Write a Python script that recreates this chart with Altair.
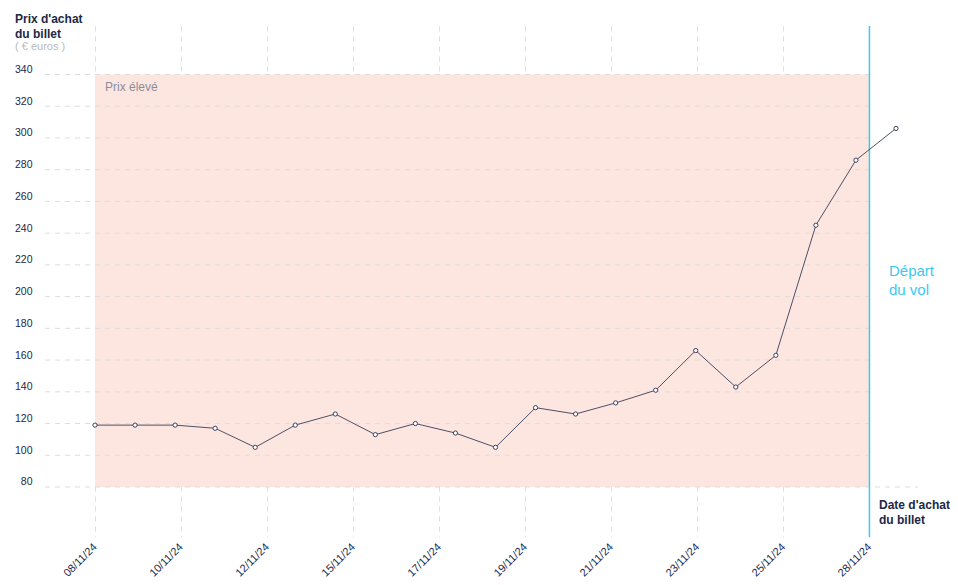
import altair as alt
import pandas as pd

# ---- data ----
purchase_dates = ["08/11/24", "09/11/24", "10/11/24", "11/11/24", "12/11/24", "13/11/24",
                  "14/11/24", "15/11/24", "16/11/24", "17/11/24", "18/11/24", "19/11/24",
                  "20/11/24", "21/11/24", "22/11/24", "23/11/24", "24/11/24", "25/11/24",
                  "26/11/24", "27/11/24", "28/11/24"]
prices = [119, 119, 119, 117, 105, 119, 126, 113, 120, 114, 105,
          130, 126, 133, 141, 166, 143, 163, 245, 286, 306]
tick_labels = ["08/11/24", "10/11/24", "12/11/24", "15/11/24", "17/11/24",
               "19/11/24", "21/11/24", "23/11/24", "25/11/24", "28/11/24"]
y_ticks = [80, 100, 120, 140, 160, 180, 200, 220, 240, 260, 280, 300, 320, 340]
high_low, high_top = 80, 340

# ---- layout constants ----
W, H = 825, 511
DEP = 19.337                      # departure position on the x axis (purchase-day index)
X_DOMAIN = [-1.2484, 19.351]
Y_DOMAIN = [48.48, 370.57]
step = DEP / (len(tick_labels) - 1)
tick_vals = [round(k * step, 4) for k in range(len(tick_labels))]

NAVY = "#1c2846"
CYAN = "#3cc8f0"
FONT = "Liberation Sans"

df = pd.DataFrame({"i": list(range(len(prices))), "date": purchase_dates, "price": prices})

xs = alt.Scale(domain=X_DOMAIN, nice=False, zero=False)
ys = alt.Scale(domain=Y_DOMAIN, nice=False, zero=False)

label_arr = "[" + ",".join("'" + t + "'" for t in tick_labels) + "]"

XAX = alt.Axis(values=tick_vals, labelExpr=label_arr + "[round(datum.value / " + str(step) + ")]",
               title=None, domain=False, ticks=False, grid=True,
               gridColor="#dddddd", gridDash=[5, 5], gridWidth=1,
               labelAngle=315, labelAlign="right", labelBaseline="middle",
               labelPadding=8, labelFontSize=11, labelColor=NAVY, labelFont=FONT,
               labelOverlap=False)
YAX = alt.Axis(values=y_ticks, title=None, domain=False, ticks=False, grid=False,
               labelPadding=13, labelBaseline="bottom", labelFontSize=10.5,
               labelColor=NAVY, labelFont=FONT, labelOverlap=False,
               labelBound=False, labelFlush=False)

zone = alt.Chart(pd.DataFrame({"a": [0], "b": [DEP], "lo": [high_low], "hi": [high_top]})).mark_rect(
    color="#fde6e0").encode(
    x=alt.X("a:Q", scale=xs, axis=XAX), x2="b:Q",
    y=alt.Y("lo:Q", scale=ys, axis=YAX), y2="hi:Q",
)

grid_df = pd.DataFrame({"v": y_ticks[1:]})
hgrid = alt.Chart(grid_df).mark_rule(color="#dddddd", strokeDash=[5, 5], strokeWidth=1).encode(
    y=alt.Y("v:Q", scale=ys, axis=YAX),
    x=alt.X(datum=X_DOMAIN[0], scale=xs, axis=XAX),
    x2=alt.X2(datum=DEP))
base_line = alt.Chart(pd.DataFrame({"v": [y_ticks[0]]})).mark_rule(
    color="#dddddd", strokeDash=[5, 5], strokeWidth=1).encode(
    y=alt.Y("v:Q", scale=ys, axis=YAX), x=alt.value(0), x2=alt.value(873))

dep_rule = alt.Chart(pd.DataFrame({"d": [DEP]})).mark_rule(color=CYAN, strokeWidth=1.5).encode(
    x=alt.X("d:Q", scale=xs, axis=XAX), y=alt.value(0), y2=alt.value(H))

line = alt.Chart(df).mark_line(color="#4b5068", strokeWidth=1, clip=False).encode(
    x=alt.X("i:Q", scale=xs, axis=XAX), y=alt.Y("price:Q", scale=ys, axis=YAX))
pts = alt.Chart(df).mark_point(filled=True, fill="white", stroke="#3c4260", strokeWidth=1,
                               size=18, opacity=1, clip=False).encode(
    x=alt.X("i:Q", scale=xs, axis=XAX), y=alt.Y("price:Q", scale=ys, axis=YAX),
    tooltip=["date:N", "price:Q"])


def label(text, x, y, size=12, color=NAVY, weight="normal"):
    return alt.Chart(pd.DataFrame({"t": [text]})).mark_text(
        align="left", baseline="alphabetic", font=FONT, fontSize=size,
        color=color, fontWeight=weight).encode(
        x=alt.value(x), y=alt.value(y), text="t:N")


texts = [
    label("Prix d'achat", -30, -3, 12, NAVY, "bold"),
    label("du billet", -30, 11.5, 12, NAVY, "bold"),
    label("( € euros )", -30, 24, 11, "#b9b9b9"),
    label("Prix élevé", 60, 65, 12, "#8b8c99"),
    label("Départ", 844, 250, 15, CYAN),
    label("du vol", 844, 269, 15, CYAN),
    label("Date d'achat", 834, 483, 12, NAVY, "bold"),
    label("du billet", 834, 498, 12, NAVY, "bold"),
]

chart = alt.layer(zone, hgrid, base_line, dep_rule, line, pts, *texts).properties(
    width=W, height=H,
    autosize=alt.AutoSizeParams(type="none"),
    padding={"left": 37, "top": 18, "right": 80, "bottom": 48},
).configure(background="white", view=alt.ViewConfig(stroke="transparent"),
            axis=alt.AxisConfig(labelOverlap=False))

chart.save("out.html", embed_options={"renderer": "svg", "actions": False})
